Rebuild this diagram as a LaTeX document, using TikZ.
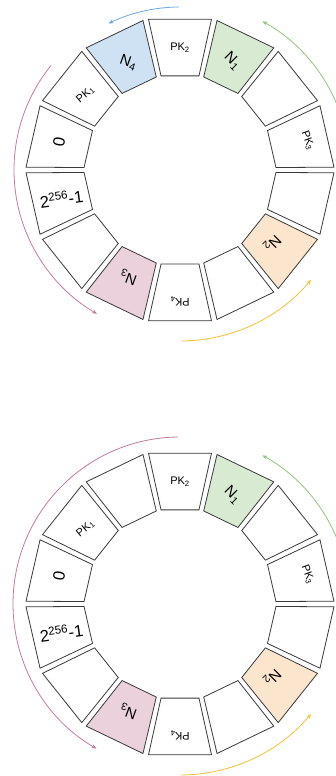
\documentclass[tikz,border=0pt]{standalone}
\usepackage{fontspec}
\setmainfont{Liberation Sans}
\usetikzlibrary{arrows.meta}
\definecolor{segline}{HTML}{3A3A3A}
\definecolor{fblue}{HTML}{CFE2F3}
\definecolor{fgreen}{HTML}{D9EAD3}
\definecolor{forange}{HTML}{FCE5CD}
\definecolor{fpink}{HTML}{EAD1DC}
\definecolor{ablue}{HTML}{6FA8DC}
\definecolor{agreen}{HTML}{93C47D}
\definecolor{apink}{HTML}{C27BA0}
\definecolor{ayellow}{HTML}{F1C232}
\begin{document}
\begin{tikzpicture}[x=1pt,y=1pt,
  seg/.style={draw=segline, line width=0.8pt},
  lab/.style={font=\fontsize{11}{11}\selectfont, inner sep=0pt},
  nlab/.style={font=\fontsize{15}{15}\selectfont, inner sep=0pt},
  biglab/.style={font=\fontsize{16.5}{16.5}\selectfont, inner sep=0pt},
  arr/.style={line width=0.8pt, -{Stealth[length=5pt,width=4pt]}}]
\clip (0,0) rectangle (336,776);
\fill[white] (0,0) rectangle (336,776);
% ---------- ring 1 ----------
\begin{scope}[shift={(180,606)}]
  \foreach \a/\f in {90/white,115.714/fblue,141.429/white,167.143/white,192.857/white,218.571/white,244.286/fpink,270/white,295.714/white,321.429/forange,347.143/white,12.857/white,38.571/white,64.286/fgreen}
    {\filldraw[seg, fill=\f] (\a+11.8:154) -- (\a-11.8:154) -- (\a-11.4:96) -- (\a+11.4:96) -- cycle;}
  \node[lab] (a-pk2) at (90:122) {PK\textsubscript{2}};
  \node[nlab, rotate=-20] (a-n4) at (115.7:119) {N\textsubscript{4}};
  \node[lab, rotate=40] (a-pk1) at (141.4:121) {PK\textsubscript{1}};
  \node[biglab, rotate=80] (a-zero) at (167.1:124) {0};
  \node[biglab, rotate=8] (a-max) at (193.5:122) {2\textsuperscript{256}-1};
  \node[nlab, rotate=160] (a-n3) at (244.3:119) {N\textsubscript{3}};
  \node[lab, rotate=180] (a-pk4) at (270:131) {PK\textsubscript{4}};
  \node[nlab, rotate=225] (a-n2) at (321.4:118) {N\textsubscript{2}};
  \node[lab, rotate=-70] (a-pk3) at (12.9:131) {PK\textsubscript{3}};
  \node[nlab, rotate=-45] (a-n1) at (64.3:121) {N\textsubscript{1}};
  \draw[arr, ablue] (90.4:163) arc[start angle=90.4, end angle=116, radius=163];
  \draw[arr, agreen] (8:170) arc[start angle=8, end angle=61, radius=170];
  \draw[arr, apink] (141:166) arc[start angle=141, end angle=240, radius=166];
  \draw[arr, ayellow] (270.3:171) arc[start angle=270.3, end angle=320, radius=171];
\end{scope}
% ---------- ring 2 ----------
\begin{scope}[shift={(180,172)}]
  \foreach \a/\f in {90/white,115.714/white,141.429/white,167.143/white,192.857/white,218.571/white,244.286/fpink,270/white,295.714/white,321.429/forange,347.143/white,12.857/white,38.571/white,64.286/fgreen}
    {\filldraw[seg, fill=\f] (\a+11.8:154) -- (\a-11.8:154) -- (\a-11.4:96) -- (\a+11.4:96) -- cycle;}
  \node[lab] (b-pk2) at (90:122) {PK\textsubscript{2}};
  \node[lab, rotate=40] (b-pk1) at (141.4:121) {PK\textsubscript{1}};
  \node[biglab, rotate=80] (b-zero) at (167.1:124) {0};
  \node[biglab, rotate=8] (b-max) at (193.5:122) {2\textsuperscript{256}-1};
  \node[nlab, rotate=160] (b-n3) at (244.3:119) {N\textsubscript{3}};
  \node[lab, rotate=180] (b-pk4) at (270:131) {PK\textsubscript{4}};
  \node[nlab, rotate=225] (b-n2) at (321.4:118) {N\textsubscript{2}};
  \node[lab, rotate=-70] (b-pk3) at (12.9:131) {PK\textsubscript{3}};
  \node[nlab, rotate=-45] (b-n1) at (64.3:121) {N\textsubscript{1}};
  \draw[arr, agreen] (8:170) arc[start angle=8, end angle=61, radius=170];
  \draw[arr, apink] (90.7:167) arc[start angle=90.7, end angle=240, radius=167];
  \draw[arr, ayellow] (270.3:171) arc[start angle=270.3, end angle=320, radius=171];
\end{scope}
\end{tikzpicture}
\end{document}
